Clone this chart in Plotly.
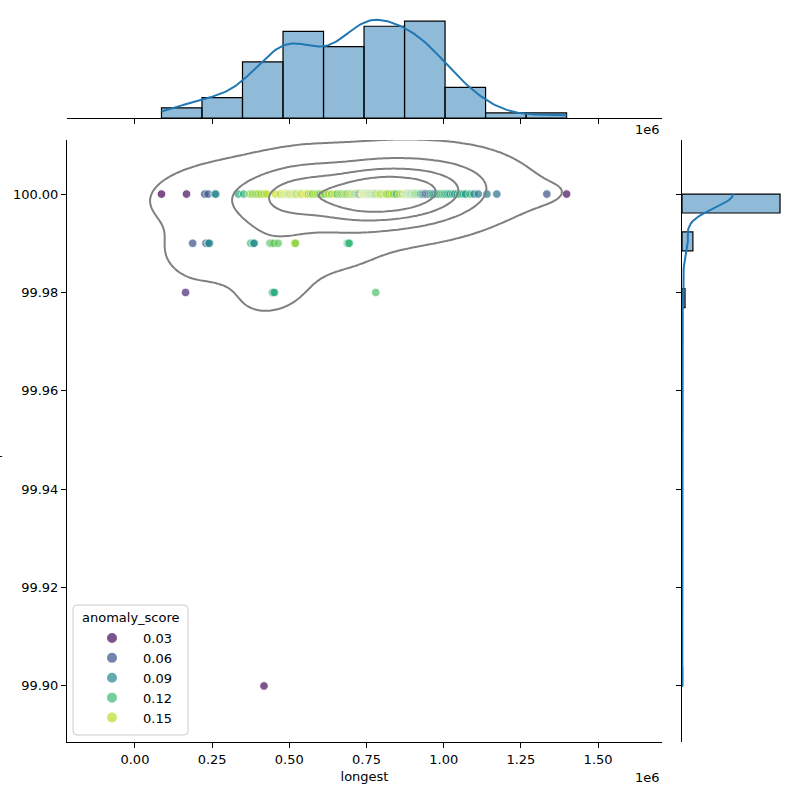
import numpy as np
import plotly.graph_objects as go
from plotly.colors import sample_colorscale

# ---------------- data (longest in Mbp) ----------------
longest_row_100 = [
    0.086, 0.167,
    0.226, 0.237, 0.258, 0.262, 0.335,
    0.352, 0.372, 0.381, 0.392, 0.399, 0.408, 0.418, 0.427, 0.455, 0.471,
    0.481, 0.484, 0.488, 0.491, 0.494, 0.497, 0.499, 0.502, 0.505, 0.508, 0.511,
    0.514, 0.517, 0.520, 0.523, 0.526, 0.530, 0.533, 0.537, 0.541, 0.545, 0.549,
    0.553, 0.558, 0.563, 0.569, 0.576, 0.584, 0.592, 0.600, 0.607,
    0.615, 0.626, 0.637, 0.647, 0.656, 0.664, 0.671, 0.678, 0.684, 0.690, 0.695,
    0.700, 0.704, 0.708, 0.712, 0.716, 0.719, 0.722, 0.725, 0.728, 0.731, 0.734,
    0.736, 0.738, 0.741,
    0.743, 0.745, 0.747, 0.749, 0.751, 0.753, 0.755, 0.757, 0.759, 0.761, 0.763,
    0.765, 0.767, 0.769, 0.771, 0.773, 0.775, 0.777, 0.780, 0.783, 0.786, 0.789,
    0.792, 0.796, 0.800, 0.805, 0.810, 0.812, 0.816, 0.823, 0.830, 0.838, 0.847,
    0.857, 0.867,
    0.874, 0.876, 0.878, 0.880, 0.882, 0.884, 0.886, 0.888, 0.890, 0.892, 0.894,
    0.896, 0.898, 0.900, 0.902, 0.904, 0.906, 0.908, 0.911, 0.914, 0.917, 0.920,
    0.923, 0.926, 0.930, 0.934, 0.938, 0.942, 0.947, 0.952, 0.957, 0.963, 0.969,
    0.975, 0.981, 0.988, 0.995, 1.002,
    1.008, 1.014, 1.021, 1.029, 1.036, 1.044, 1.052, 1.063, 1.071, 1.085, 1.098,
    1.112,
    1.140, 1.172,
    1.334, 1.398,
]
score_row_100 = [
    0.025, 0.030,
    0.060, 0.065, 0.085, 0.090, 0.110,
    0.115, 0.140, 0.145, 0.130, 0.150, 0.140, 0.145, 0.150, 0.155, 0.150,
    0.140, 0.155, 0.150, 0.160, 0.145, 0.130, 0.155, 0.150, 0.120, 0.160, 0.145,
    0.155, 0.140, 0.160, 0.150, 0.125, 0.155, 0.160, 0.140, 0.150, 0.135, 0.160,
    0.165, 0.150, 0.140, 0.155, 0.130, 0.150, 0.145, 0.120, 0.155,
    0.130, 0.150, 0.140, 0.155, 0.120, 0.145, 0.130, 0.150, 0.140, 0.120, 0.155,
    0.130, 0.150, 0.145, 0.140, 0.120, 0.135, 0.150, 0.100, 0.070, 0.060, 0.145,
    0.155, 0.165, 0.140,
    0.150, 0.130, 0.160, 0.140, 0.150, 0.120, 0.155, 0.145, 0.130, 0.140, 0.150,
    0.125, 0.100, 0.155, 0.140, 0.150, 0.120, 0.160, 0.135, 0.100, 0.150, 0.145,
    0.160, 0.130, 0.150, 0.140, 0.165, 0.140, 0.150, 0.130, 0.155, 0.140, 0.120,
    0.150, 0.145,
    0.150, 0.140, 0.130, 0.120, 0.140, 0.150, 0.120, 0.130, 0.145, 0.150, 0.120,
    0.090, 0.130, 0.145, 0.150, 0.120, 0.130, 0.140, 0.125, 0.130, 0.140, 0.120,
    0.130, 0.110, 0.120, 0.090, 0.070, 0.060, 0.055, 0.080, 0.120, 0.110, 0.080,
    0.100, 0.120, 0.110, 0.130, 0.110,
    0.110, 0.120, 0.100, 0.120, 0.090, 0.110, 0.120, 0.110, 0.100, 0.120, 0.090,
    0.085,
    0.085, 0.075,
    0.060, 0.030,
]
longest_row_9999 = [0.187, 0.230, 0.238, 0.241, 0.375, 0.384, 0.386, 0.437, 0.440,
                    0.445, 0.450, 0.464, 0.517, 0.518, 0.520, 0.688, 0.692, 0.694]
score_row_9999 = [0.060, 0.065, 0.085, 0.090, 0.120, 0.090, 0.095, 0.125, 0.130,
                  0.125, 0.135, 0.130, 0.150, 0.145, 0.140, 0.120, 0.115, 0.120]
longest_row_9998 = [0.164, 0.445, 0.448, 0.452, 0.780]
score_row_9998 = [0.040, 0.110, 0.115, 0.110, 0.125]
longest_row_9990 = [0.418]
score_row_9990 = [0.030]

completeness_levels = [100.00, 99.99, 99.98, 99.90]
legend_values = [0.03, 0.06, 0.09, 0.12, 0.15]
x_tick_values = [0.00, 0.25, 0.50, 0.75, 1.00, 1.25, 1.50]
y_tick_values = [99.90, 99.92, 99.94, 99.96, 99.98, 100.00]

# ---------------- assemble ----------------
rows_x = [longest_row_100, longest_row_9999, longest_row_9998, longest_row_9990]
rows_s = [score_row_100, score_row_9999, score_row_9998, score_row_9990]
longest = np.concatenate([np.array(r) * 1e6 for r in rows_x])
completeness = np.concatenate([np.full(len(r), lv) for r, lv in zip(rows_x, completeness_levels)])
anomaly = np.concatenate([np.array(s) for s in rows_s])
n = len(longest)

FONT = "DejaVu Sans"
HIST_FILL = "rgba(31,119,180,0.5)"
KDE_COLOR = "#1f77b4"

# ---------------- marginal histograms + kde ----------------
def kde1d(data, grid):
    bw = np.std(data, ddof=1) * len(data) ** (-1 / 5)
    z = (grid[:, None] - data[None, :]) / bw
    return np.exp(-0.5 * z ** 2).sum(1) / (len(data) * bw * np.sqrt(2 * np.pi))

cx, ex = np.histogram(longest, bins=10)
bwx = ex[1] - ex[0]
gx1 = np.linspace(longest.min(), longest.max(), 200)
kx = kde1d(longest, gx1) * n * bwx

cy, ey = np.histogram(completeness, bins=26)
bwy = ey[1] - ey[0]
gy1 = np.linspace(completeness.min(), completeness.max(), 200)
ky = kde1d(completeness, gy1) * n * bwy
keep = cy > 0

# ---------------- bivariate kde (contours) ----------------
Y_BW_STRETCH = 1.2
data = np.vstack([longest, completeness])
kc = np.cov(data) * (n ** (-1 / 6)) ** 2
S = np.diag([1.0, Y_BW_STRETCH])
kc = S @ kc @ S
inv = np.linalg.inv(kc)
norm = 1.0 / (2 * np.pi * np.sqrt(np.linalg.det(kc)) * n)
bw2 = np.sqrt(np.diag(kc))
gx = np.linspace(longest.min() - 3 * bw2[0], longest.max() + 3 * bw2[0], 220)
gy = np.linspace(completeness.min() - 3 * bw2[1], completeness.max() + 3 * bw2[1], 220)
Z = np.empty((len(gy), len(gx)))
for i, yv in enumerate(gy):
    dx = gx[:, None] - longest[None, :]
    dy = yv - completeness[None, :]
    q = inv[0, 0] * dx ** 2 + 2 * inv[0, 1] * dx * dy + inv[1, 1] * dy ** 2
    Z[i] = np.exp(-0.5 * q).sum(1) * norm

iso = np.linspace(0.05, 1, 5)[:-1]
sv = np.sort(Z.ravel())[::-1]
cum = np.cumsum(sv) / sv.sum()
levels = sv[np.clip(np.searchsorted(cum, 1 - iso), 0, len(sv) - 1)]

# ---------------- figure ----------------
fig = go.Figure()

cmin, cmax = anomaly.min(), anomaly.max()
fig.add_trace(go.Scatter(
    x=longest, y=completeness, mode="markers", showlegend=False,
    marker=dict(color=anomaly, colorscale="Viridis", cmin=cmin, cmax=cmax,
                size=8.5, opacity=0.7, line=dict(color="white", width=0.8)),
    xaxis="x", yaxis="y", hoverinfo="skip"))

for L in levels:
    fig.add_trace(go.Contour(
        x=gx, y=gy, z=Z, autocontour=False, showscale=False,
        contours=dict(start=L, end=L, size=L * 10, coloring="none"),
        line=dict(color="gray", width=2, smoothing=1.0),
        xaxis="x4", yaxis="y4", hoverinfo="skip", showlegend=False))

# top marginal
fig.add_trace(go.Bar(x=(ex[:-1] + ex[1:]) / 2, y=cx, width=bwx,
                     marker=dict(color=HIST_FILL, line=dict(color="black", width=1.2)),
                     xaxis="x2", yaxis="y2", showlegend=False, hoverinfo="skip"))
fig.add_trace(go.Scatter(x=gx1, y=kx, mode="lines", line=dict(color=KDE_COLOR, width=2),
                         xaxis="x2", yaxis="y2", showlegend=False, hoverinfo="skip"))
# right marginal
fig.add_trace(go.Bar(y=((ey[:-1] + ey[1:]) / 2)[keep], x=cy[keep], width=bwy, orientation="h",
                     marker=dict(color=HIST_FILL, line=dict(color="black", width=1.2)),
                     xaxis="x3", yaxis="y3", showlegend=False, hoverinfo="skip"))
fig.add_trace(go.Scatter(x=ky, y=gy1, mode="lines", line=dict(color=KDE_COLOR, width=2),
                         xaxis="x3", yaxis="y3", showlegend=False, hoverinfo="skip"))

# legend entries
for v in legend_values:
    c = sample_colorscale("Viridis", [(v - cmin) / (cmax - cmin)])[0]
    fig.add_trace(go.Scatter(x=[None], y=[None], mode="markers", name=f"{v:.2f}",
                             marker=dict(color=c, size=8, opacity=0.7,
                                         line=dict(color="white", width=0.8)),
                             xaxis="x", yaxis="y"))

W = 800.0
XR = [-0.22e6, 1.707e6]
YR = [99.8886, 100.011]
main_x_dom = [67 / W, 662 / W]
main_y_dom = [1 - 742 / W, 1 - 140 / W]

axis_common = dict(showgrid=False, zeroline=False, showline=True, linecolor="black",
                   linewidth=1, ticks="outside", ticklen=5, tickwidth=1, tickcolor="black",
                   tickfont=dict(family=FONT, size=13, color="black"))
no_font = {k: v for k, v in axis_common.items() if k != "tickfont"}

# rounded legend frame (paper coordinates)
lx0, lx1, ly0, ly1, r = 73 / W, 188 / W, 1 - 735 / W, 1 - 605 / W, 4 / W
frame = (f"M {lx0 + r},{ly0} L {lx1 - r},{ly0} Q {lx1},{ly0} {lx1},{ly0 + r} "
         f"L {lx1},{ly1 - r} Q {lx1},{ly1} {lx1 - r},{ly1} L {lx0 + r},{ly1} "
         f"Q {lx0},{ly1} {lx0},{ly1 - r} L {lx0},{ly0 + r} Q {lx0},{ly0} {lx0 + r},{ly0} Z")

fig.update_layout(
    width=800, height=800, margin=dict(l=0, r=0, t=0, b=0),
    paper_bgcolor="white", plot_bgcolor="rgba(0,0,0,0)",
    font=dict(family=FONT, size=13, color="black"),
    xaxis=dict(domain=main_x_dom, anchor="y", range=XR,
               tickvals=[v * 1e6 for v in x_tick_values],
               ticktext=[f"{v:.2f}" for v in x_tick_values],
               title=dict(text="longest", font=dict(family=FONT, size=13), standoff=6),
               **axis_common),
    yaxis=dict(domain=main_y_dom, anchor="x", range=YR,
               tickvals=y_tick_values, ticktext=[f"{v:.2f}" for v in y_tick_values],
               **axis_common),
    xaxis2=dict(domain=main_x_dom, anchor="y2", range=XR,
                tickvals=[v * 1e6 for v in x_tick_values], showticklabels=False, **no_font),
    yaxis2=dict(domain=[1 - 118 / W, 1.0], anchor="x2", range=[0, 46.3], visible=False),
    xaxis3=dict(domain=[682 / W, 1.0], anchor="y3", range=[0, 195], visible=False),
    yaxis3=dict(domain=main_y_dom, anchor="x3", range=YR, tickvals=y_tick_values,
                showticklabels=False, **no_font),
    xaxis4=dict(overlaying="x", range=XR, visible=False),
    yaxis4=dict(overlaying="y", range=YR, visible=False),
    shapes=[dict(type="path", path=frame, xref="paper", yref="paper", layer="above",
                 line=dict(color="#cccccc", width=1), fillcolor="rgba(255,255,255,0.8)")],
    legend=dict(x=81 / W, y=1 - 623 / W, xanchor="left", yanchor="top",
                bgcolor="rgba(0,0,0,0)", borderwidth=0, itemwidth=52,
                font=dict(family=FONT, size=13), tracegroupgap=0, itemsizing="constant"),
    annotations=[
        dict(text="anomaly_score", x=130.5 / W, y=1 - 617 / W, xref="paper", yref="paper",
             xanchor="center", yanchor="middle", showarrow=False,
             font=dict(family=FONT, size=13)),
        dict(text="1e6", x=662 / W, y=1 - 777 / W, xref="paper", yref="paper",
             xanchor="right", yanchor="middle", showarrow=False,
             font=dict(family=FONT, size=13)),
        dict(text="1e6", x=662 / W, y=1 - 129 / W, xref="paper", yref="paper",
             xanchor="right", yanchor="middle", showarrow=False,
             font=dict(family=FONT, size=13)),
        dict(text="completeness", x=-6 / W, y=1 - 441 / W, xref="paper", yref="paper",
             xanchor="center", yanchor="middle", textangle=-90, showarrow=False,
             font=dict(family=FONT, size=13)),
    ],
)

fig.write_html("out.html")
